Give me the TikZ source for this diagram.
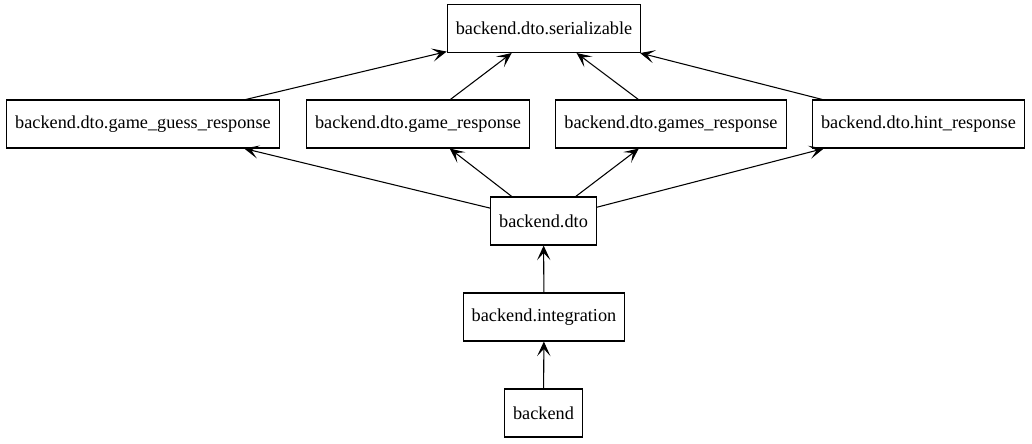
\documentclass[tikz,border=0pt]{standalone}
\usepackage{fontspec}
\setmainfont{Liberation Serif}
\usetikzlibrary{arrows.meta,positioning}

\begin{document}
\begin{tikzpicture}[x=0.75pt, y=-0.75pt, line width=0.8pt]
\tikzstyle{pkg}=[draw=black, rectangle, minimum height=36pt, inner xsep=6.4pt, font=\fontsize{13.7}{16}\selectfont]
\tikzstyle{dep}=[-{Stealth[length=11pt,width=10pt,inset=5.5pt]}]
\useasboundingbox (0,0) rectangle (1032,443);
\node[pkg] (serial) at (544,28.5)   {backend.dto.serializable};
\node[pkg] (guess)  at (143,124)    {backend.dto.game\_guess\_response};
\node[pkg] (game)   at (418,124)    {backend.dto.game\_response};
\node[pkg] (games)  at (671,124)    {backend.dto.games\_response};
\node[pkg] (hint)   at (918.5,124)  {backend.dto.hint\_response};
\node[pkg] (dto)    at (543.5,221)  {backend.dto};
\node[pkg] (integ)  at (544,317)    {backend.integration};
\node[pkg] (back)   at (543.5,413)  {backend};
\draw
(guess) edge[dep] (serial)
(game)  edge[dep] (serial)
(games) edge[dep] (serial)
(hint)  edge[dep] (serial)
(dto)   edge[dep] (guess)
(dto)   edge[dep] (game)
(dto)   edge[dep] (games)
(dto)   edge[dep] (hint)
(integ) edge[dep] (dto)
(back)  edge[dep] (integ);
\end{tikzpicture}
\end{document}
